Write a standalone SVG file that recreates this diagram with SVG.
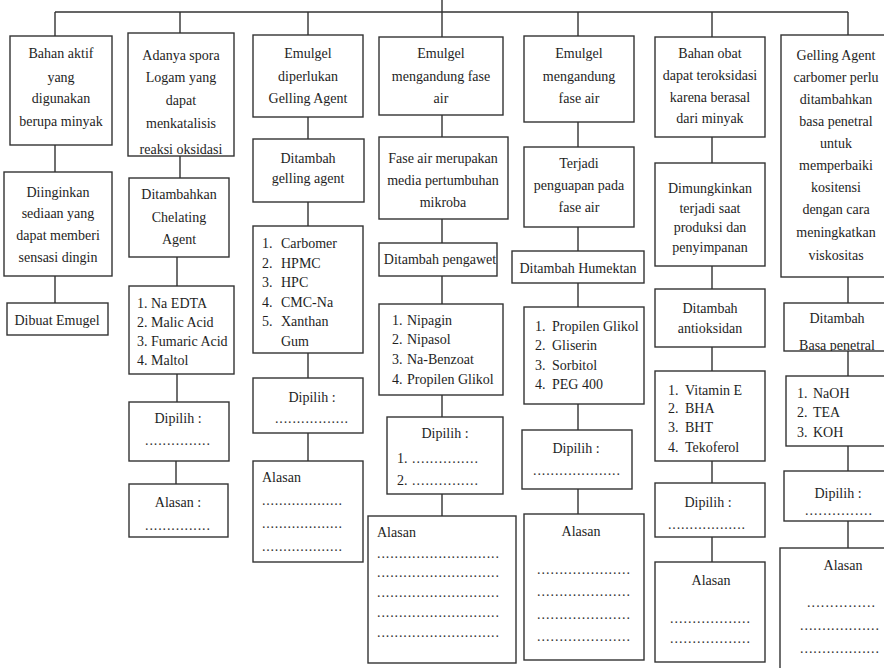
<svg xmlns="http://www.w3.org/2000/svg" width="884" height="668" viewBox="0 0 884 668">
  <defs>
    <style>
      .box { fill: #ffffff; stroke: #333333; stroke-width: 1.4; }
      .ln { fill: none; stroke: #333333; stroke-width: 1.4; }
      text { font-family: "Liberation Serif", "Times New Roman", serif; font-size: 14px; fill: #1e1e1e; }
      .c { text-anchor: middle; }
      .d { font-size: 14px; fill: #333333; }
    </style>
    <clipPath id="clip-spora"><rect x="128" y="33" width="106" height="123"/></clipPath>
    <clipPath id="clip-basa"><rect x="784" y="303" width="110" height="48"/></clipPath>
  </defs>
  <rect width="884" height="668" fill="#ffffff"/>

  <!-- connectors -->
  <g id="connectors">
    <path class="ln" d="M55 12 H848 M442 0 V37"/>
    <path class="ln" d="M55 12 V36 M55 145 V172 M55 276 V303"/>
    <path class="ln" d="M180 12 V33 M180 156 V178 M177 257 V286 M177 374 V402 M176 461 V484"/>
    <path class="ln" d="M308 12 V35 M308 117 V139 M308 202 V226 M308 353 V378 M308 433 V461"/>
    <path class="ln" d="M442 115 V137 M442 219 V243 M442 276 V304 M442 395 V417 M442 494 V516"/>
    <path class="ln" d="M578 12 V36 M578 122 V147 M578 227 V251 M578 283 V307 M578 404 V430 M578 489 V514"/>
    <path class="ln" d="M712 12 V37 M712 137 V163 M712 266 V289 M712 347 V371 M712 461 V483 M712 537 V562"/>
    <path class="ln" d="M848 12 V35 M848 277 V303 M848 351 V376 M848 446 V471 M848 521 V548"/>
  </g>

  <!-- column 1 -->
  <g id="n1a">
    <rect class="box" x="10" y="36" width="102" height="109"/>
    <text class="c" x="61" y="57.5">Bahan aktif</text>
    <text class="c" x="61" y="81.5">yang</text>
    <text class="c" x="61" y="102.5">digunakan</text>
    <text class="c" x="61" y="125.5">berupa minyak</text>
  </g>
  <g id="n1b">
    <rect class="box" x="4" y="172" width="108" height="104"/>
    <text class="c" x="58" y="196.5">Diinginkan</text>
    <text class="c" x="58" y="217.5">sediaan yang</text>
    <text class="c" x="58" y="239.5">dapat memberi</text>
    <text class="c" x="58" y="261.5">sensasi dingin</text>
  </g>
  <g id="n1c">
    <rect class="box" x="7" y="303" width="101" height="32"/>
    <text class="c" x="57" y="324.5">Dibuat Emugel</text>
  </g>

  <!-- column 2 -->
  <g id="n2a">
    <rect class="box" x="128" y="33" width="106" height="123"/>
    <g clip-path="url(#clip-spora)">
      <text class="c" x="181" y="59.5">Adanya spora</text>
      <text class="c" x="181" y="81.5">Logam yang</text>
      <text class="c" x="181" y="104.5">dapat</text>
      <text class="c" x="181" y="127.5">menkatalisis</text>
      <text class="c" x="181" y="153.5">reaksi oksidasi</text>
    </g>
  </g>
  <g id="n2b">
    <rect class="box" x="129" y="178" width="100" height="79"/>
    <text class="c" x="179" y="198.5">Ditambahkan</text>
    <text class="c" x="179" y="221.5">Chelating</text>
    <text class="c" x="179" y="243.5">Agent</text>
  </g>
  <g id="n2c">
    <rect class="box" x="129" y="286" width="105" height="88"/>
    <text x="137" y="307.5">1. Na EDTA</text>
    <text x="137" y="326.5">2. Malic Acid</text>
    <text x="137" y="345.5">3. Fumaric Acid</text>
    <text x="137" y="365">4. Maltol</text>
  </g>
  <g id="n2d">
    <rect class="box" x="129" y="402" width="100" height="59"/>
    <text class="c" x="178" y="422.5">Dipilih :</text>
    <text class="d" x="145" y="445" textLength="65" lengthAdjust="spacing">...............</text>
  </g>
  <g id="n2e">
    <rect class="box" x="129" y="484" width="99" height="53"/>
    <text class="c" x="178" y="506.5">Alasan :</text>
    <text class="d" x="145" y="529.5" textLength="65" lengthAdjust="spacing">...............</text>
  </g>

  <!-- column 3 -->
  <g id="n3a">
    <rect class="box" x="253" y="35" width="110" height="82"/>
    <text class="c" x="308" y="57.5">Emulgel</text>
    <text class="c" x="308" y="81">diperlukan</text>
    <text class="c" x="308" y="102.5">Gelling Agent</text>
  </g>
  <g id="n3b">
    <rect class="box" x="253" y="139" width="111" height="63"/>
    <text class="c" x="308" y="162.5">Ditambah</text>
    <text class="c" x="308" y="182.5">gelling agent</text>
  </g>
  <g id="n3c">
    <rect class="box" x="253" y="226" width="110" height="127"/>
    <text x="262" y="247.5">1.</text><text x="281" y="247.5">Carbomer</text>
    <text x="262" y="267.5">2.</text><text x="281" y="267.5">HPMC</text>
    <text x="262" y="286.5">3.</text><text x="281" y="286.5">HPC</text>
    <text x="262" y="306.5">4.</text><text x="281" y="306.5">CMC-Na</text>
    <text x="262" y="325.5">5.</text><text x="281" y="325.5">Xanthan</text>
    <text x="281" y="345.5">Gum</text>
  </g>
  <g id="n3d">
    <rect class="box" x="253" y="378" width="110" height="55"/>
    <text class="c" x="312" y="401.5">Dipilih :</text>
    <text class="d" x="275" y="423" textLength="73" lengthAdjust="spacing">.................</text>
  </g>
  <g id="n3e">
    <rect class="box" x="253" y="461" width="110" height="101"/>
    <text x="262" y="481.5">Alasan</text>
    <text class="d" x="262" y="505" textLength="80" lengthAdjust="spacing">...................</text>
    <text class="d" x="262" y="528" textLength="80" lengthAdjust="spacing">...................</text>
    <text class="d" x="262" y="551" textLength="80" lengthAdjust="spacing">...................</text>
  </g>

  <!-- column 4 -->
  <g id="n4a">
    <rect class="box" x="379" y="37" width="124" height="78"/>
    <text class="c" x="441" y="57.5">Emulgel</text>
    <text class="c" x="441" y="80.5">mengandung fase</text>
    <text class="c" x="441" y="102.5">air</text>
  </g>
  <g id="n4b">
    <rect class="box" x="379" y="137" width="129" height="82"/>
    <text class="c" x="443" y="162.5">Fase air merupakan</text>
    <text class="c" x="443" y="184.5">media pertumbuhan</text>
    <text class="c" x="443" y="206.5">mikroba</text>
  </g>
  <g id="n4c">
    <rect class="box" x="379" y="243" width="118" height="33"/>
    <text class="c" x="440" y="263.5">Ditambah pengawet</text>
  </g>
  <g id="n4d">
    <rect class="box" x="379" y="304" width="124" height="91"/>
    <text x="392" y="324.5">1.</text><text x="407" y="324.5">Nipagin</text>
    <text x="392" y="344">2.</text><text x="407" y="344">Nipasol</text>
    <text x="392" y="363.5">3.</text><text x="407" y="363.5">Na-Benzoat</text>
    <text x="392" y="383.5">4.</text><text x="407" y="383.5">Propilen Glikol</text>
  </g>
  <g id="n4e">
    <rect class="box" x="387" y="417" width="116" height="77"/>
    <text class="c" x="445" y="437.5">Dipilih :</text>
    <text x="397" y="462.5">1.</text>
    <text class="d" x="412" y="462.5" textLength="66" lengthAdjust="spacing">...............</text>
    <text x="397" y="484.5">2.</text>
    <text class="d" x="412" y="484.5" textLength="66" lengthAdjust="spacing">...............</text>
  </g>
  <g id="n4f">
    <rect class="box" x="368" y="516" width="148" height="147"/>
    <text x="377" y="536.5">Alasan</text>
    <text class="d" x="377" y="558" textLength="122" lengthAdjust="spacing">............................</text>
    <text class="d" x="377" y="577" textLength="122" lengthAdjust="spacing">............................</text>
    <text class="d" x="377" y="596.5" textLength="122" lengthAdjust="spacing">............................</text>
    <text class="d" x="377" y="616.5" textLength="122" lengthAdjust="spacing">............................</text>
    <text class="d" x="377" y="636.5" textLength="122" lengthAdjust="spacing">............................</text>
  </g>

  <!-- column 5 -->
  <g id="n5a">
    <rect class="box" x="524" y="36" width="110" height="86"/>
    <text class="c" x="579" y="57.5">Emulgel</text>
    <text class="c" x="579" y="80.5">mengandung</text>
    <text class="c" x="579" y="102.5">fase air</text>
  </g>
  <g id="n5b">
    <rect class="box" x="524" y="147" width="110" height="80"/>
    <text class="c" x="579" y="167.5">Terjadi</text>
    <text class="c" x="579" y="189.5">penguapan pada</text>
    <text class="c" x="579" y="211.5">fase air</text>
  </g>
  <g id="n5c">
    <rect class="box" x="512" y="251" width="132" height="32"/>
    <text class="c" x="578" y="272.5">Ditambah Humektan</text>
  </g>
  <g id="n5d">
    <rect class="box" x="524" y="307" width="120" height="97"/>
    <text x="535" y="330.5">1.</text><text x="552" y="330.5">Propilen Glikol</text>
    <text x="535" y="350">2.</text><text x="552" y="350">Gliserin</text>
    <text x="535" y="369.5">3.</text><text x="552" y="369.5">Sorbitol</text>
    <text x="535" y="388.5">4.</text><text x="552" y="388.5">PEG 400</text>
  </g>
  <g id="n5e">
    <rect class="box" x="522" y="430" width="110" height="59"/>
    <text class="c" x="576" y="452.5">Dipilih :</text>
    <text class="d" x="533" y="475" textLength="87" lengthAdjust="spacing">....................</text>
  </g>
  <g id="n5f">
    <rect class="box" x="524" y="514" width="120" height="146"/>
    <text class="c" x="581" y="535.5">Alasan</text>
    <text class="d" x="537" y="574" textLength="93" lengthAdjust="spacing">.....................</text>
    <text class="d" x="537" y="596" textLength="93" lengthAdjust="spacing">.....................</text>
    <text class="d" x="537" y="618.5" textLength="93" lengthAdjust="spacing">.....................</text>
    <text class="d" x="537" y="640.5" textLength="93" lengthAdjust="spacing">.....................</text>
  </g>

  <!-- column 6 -->
  <g id="n6a">
    <rect class="box" x="655" y="37" width="110" height="100"/>
    <text class="c" x="710" y="57.5">Bahan obat</text>
    <text class="c" x="710" y="79.5">dapat teroksidasi</text>
    <text class="c" x="710" y="101.5">karena berasal</text>
    <text class="c" x="710" y="122.5">dari minyak</text>
  </g>
  <g id="n6b">
    <rect class="box" x="655" y="163" width="110" height="103"/>
    <text class="c" x="710" y="192.5">Dimungkinkan</text>
    <text class="c" x="710" y="212.5">terjadi saat</text>
    <text class="c" x="710" y="232">produksi dan</text>
    <text class="c" x="710" y="252">penyimpanan</text>
  </g>
  <g id="n6c">
    <rect class="box" x="655" y="289" width="110" height="58"/>
    <text class="c" x="710" y="312.5">Ditambah</text>
    <text class="c" x="710" y="332.5">antioksidan</text>
  </g>
  <g id="n6d">
    <rect class="box" x="655" y="371" width="110" height="90"/>
    <text x="668" y="394.5">1.</text><text x="685" y="394.5">Vitamin E</text>
    <text x="668" y="413">2.</text><text x="685" y="413">BHA</text>
    <text x="668" y="432">3.</text><text x="685" y="432">BHT</text>
    <text x="668" y="451.5">4.</text><text x="685" y="451.5">Tekoferol</text>
  </g>
  <g id="n6e">
    <rect class="box" x="655" y="483" width="110" height="54"/>
    <text class="c" x="708" y="506.5">Dipilih :</text>
    <text class="d" x="668" y="528.5" textLength="77" lengthAdjust="spacing">..................</text>
  </g>
  <g id="n6f">
    <rect class="box" x="655" y="562" width="110" height="100"/>
    <text class="c" x="711" y="584.5">Alasan</text>
    <text class="d" x="670" y="623" textLength="80" lengthAdjust="spacing">..................</text>
    <text class="d" x="670" y="643" textLength="80" lengthAdjust="spacing">..................</text>
  </g>

  <!-- column 7 -->
  <g id="n7a">
    <rect class="box" x="781" y="35" width="112" height="242"/>
    <text class="c" x="836" y="59.5">Gelling Agent</text>
    <text class="c" x="836" y="81.5">carbomer perlu</text>
    <text class="c" x="836" y="103.5">ditambahkan</text>
    <text class="c" x="836" y="126">basa penetral</text>
    <text class="c" x="836" y="148">untuk</text>
    <text class="c" x="836" y="170">memperbaiki</text>
    <text class="c" x="836" y="192">kositensi</text>
    <text class="c" x="836" y="214">dengan cara</text>
    <text class="c" x="836" y="237">meningkatkan</text>
    <text class="c" x="836" y="260">viskositas</text>
  </g>
  <g id="n7b">
    <rect class="box" x="784" y="303" width="110" height="48"/>
    <g clip-path="url(#clip-basa)">
      <text class="c" x="837" y="322.5">Ditambah</text>
      <text class="c" x="837" y="349.5">Basa penetral</text>
    </g>
  </g>
  <g id="n7c">
    <rect class="box" x="786" y="376" width="108" height="70"/>
    <text x="797" y="397.5">1.</text><text x="813" y="397.5">NaOH</text>
    <text x="797" y="417">2.</text><text x="813" y="417">TEA</text>
    <text x="797" y="436.5">3.</text><text x="813" y="436.5">KOH</text>
  </g>
  <g id="n7d">
    <rect class="box" x="784" y="471" width="110" height="50"/>
    <text class="c" x="838" y="497.5">Dipilih :</text>
    <text class="d" x="805" y="514.5" textLength="67" lengthAdjust="spacing">...............</text>
  </g>
  <g id="n7e">
    <rect class="box" x="780" y="548" width="114" height="130"/>
    <text class="c" x="843" y="569.5">Alasan</text>
    <text class="d" x="807" y="606.5" textLength="68" lengthAdjust="spacing">...............</text>
    <text class="d" x="800" y="629.5" textLength="79" lengthAdjust="spacing">..................</text>
    <text class="d" x="800" y="652.5" textLength="79" lengthAdjust="spacing">..................</text>
  </g>
</svg>
